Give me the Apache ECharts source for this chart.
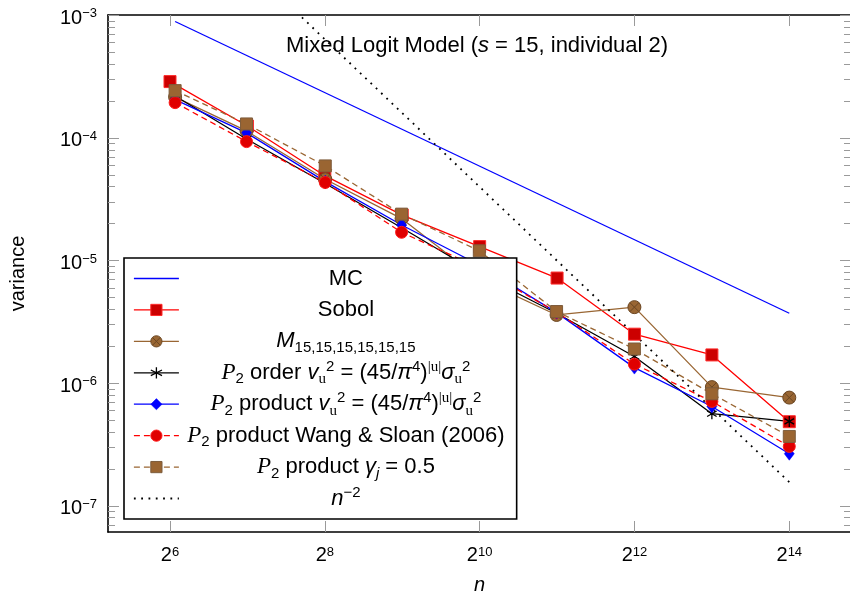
<!DOCTYPE html>
<html><head><meta charset="utf-8">
<script src="https://cdn.jsdelivr.net/npm/echarts@6/dist/echarts.min.js"></script>
<style>html,body{margin:0;padding:0;background:#fff}#c{width:850px;height:593px}</style>
</head><body><div id="c"></div>
<script>
// ---- data ----
const nSobol   = [64, 128, 256, 512, 1024, 2048, 4096, 8192, 16384];
const nLattice = [67, 127, 257, 509, 1021, 2039, 4093, 8191, 16381];
const mcN      = [67, 16381];
const mcVar    = [8.9e-4, 3.72e-6];
const sobolVar   = [2.88e-4, 1.25e-4, 4.92e-5, 2.35e-5, 1.30e-5, 7.2e-6, 2.51e-6, 1.70e-6, 4.85e-7];
const mVar       = [2.15e-4, 1.14e-4, 4.6e-5, 2.2e-5, 7.1e-6, 3.6e-6, 4.17e-6, 9.29e-7, 7.63e-7];
const orderVar   = [2.2e-4, 9.8e-5, 4.25e-5, 1.85e-5, 7.8e-6, 3.72e-6, 1.65e-6, 5.64e-7, 4.88e-7];
const productVar = [2.05e-4, 1.1e-4, 4.4e-5, 1.95e-5, 9.2e-6, 3.76e-6, 1.34e-6, 6.46e-7, 2.66e-7];
const wangVar    = [1.94e-4, 9.33e-5, 4.33e-5, 1.70e-5, 8.7e-6, 3.8e-6, 1.43e-6, 7.1e-7, 3.05e-7];
const gammaVar   = [2.43e-4, 1.30e-4, 5.91e-5, 2.39e-5, 1.20e-5, 3.84e-6, 1.90e-6, 8.2e-7, 3.68e-7];
const refN   = [67, 16381];
const refVar = [9.3e-3, 1.56e-7];
const xTickExp = [6, 8, 10, 12, 14];
const yTickExp = [-7, -6, -5, -4, -3];
const xRangeExp = [5.199, 14.797];
const yRangeExp = [-7.2135, -2.9976];

// ---- styling ----
const F = '"Liberation Sans", Arial, sans-serif';
const SERIF = '"Liberation Serif", serif';
function pairs(xs, ys) { return xs.map((x, i) => [x, ys[i]]); }
const minorY = [];
for (let e = -8; e <= -3; e++) for (let k = 2; k <= 9; k++) {
  const v = e + Math.log10(k);
  if (v > yRangeExp[0] && v < yRangeExp[1]) minorY.push(v);
}
const tickLine = {color: '#9a9a9a', width: 1};
const OTIMES = 'path://M10,0A10,10,0,1,1,-10,0A10,10,0,1,1,10,0ZM-7.07,-7.07L7.07,7.07M-7.07,7.07L7.07,-7.07';
const ASTER = 'path://M0,-10L0,10M-8.66,-5L8.66,5M-8.66,5L8.66,-5';

function tok(extra) { return Object.assign({fontFamily: F, fontSize: 22, fontWeight: 'normal', lineHeight: 31, align: 'center', color: '#000'}, extra); }
const legendRich = {
  t: tok({padding: [4.5, 0, 4.5, 0]}),
  i: tok({fontStyle: 'italic', padding: [4.5, 0, 4.5, 0]}),
  cal: tok({fontFamily: SERIF, fontStyle: 'italic', fontSize: 23, padding: [4, 0, 4, 0]}),
  sub: tok({fontSize: 15, padding: [13, 0, 0, 0]}),
  subi: tok({fontSize: 15, fontStyle: 'italic', padding: [13, 0, 0, 0]}),
  subf: tok({fontSize: 15, fontFamily: SERIF, padding: [13, 0, 0, 0]}),
  sup: tok({fontSize: 15, padding: [0, 0, 12, 0]}),
  supf: tok({fontSize: 15, fontFamily: SERIF, padding: [0, 0, 12, 0]})
};
const vu = '{i|v}{subf|u}{sup|2}{t| = (45/}{i|π}{sup|4}{t|)}{supf||u|}{i|σ}{subf|u}{sup|2}';
const legendText = {
  MC: '{t|MC}',
  Sobol: '{t|Sobol}',
  M: '{i|M}{sub|15,15,15,15,15,15}',
  order: '{cal|P}{sub|2}{t| order }' + vu,
  product: '{cal|P}{sub|2}{t| product }' + vu,
  wang: '{cal|P}{sub|2}{t| product Wang & Sloan (2006)}',
  gamma: '{cal|P}{sub|2}{t| product }{i|γ}{subi|j}{t| = 0.5}',
  ref: '{i|n}{sup|−2}'
};

const seriesDefs = [
  {name: 'MC', n: mcN, v: mcVar, symbol: 'none', size: 0,
   line: {color: '#0000ff', width: 1.3}, item: {color: '#0000ff', borderColor: '#0000ff', borderWidth: 0, opacity: 0}},
  {name: 'Sobol', n: nSobol, v: sobolVar, symbol: 'rect', size: 12,
   line: {color: '#ff0000', width: 1.3}, item: {color: '#cc0000', borderColor: '#ff2a2a', borderWidth: 1, opacity: 1}},
  {name: 'M', n: nLattice, v: mVar, symbol: OTIMES, size: 13,
   line: {color: '#996633', width: 1.3}, item: {color: '#996633', borderColor: '#6b4622', borderWidth: 1, opacity: 1}},
  {name: 'order', n: nLattice, v: orderVar, symbol: ASTER, size: 11,
   line: {color: '#000000', width: 1.3}, item: {color: '#000000', borderColor: '#000000', borderWidth: 1.3, opacity: 1}},
  {name: 'product', n: nLattice, v: productVar, symbol: 'diamond', size: [10, 13],
   line: {color: '#0000ff', width: 1.3}, item: {color: '#0000ff', borderColor: '#0000ff', borderWidth: 0.5, opacity: 1}},
  {name: 'wang', n: nLattice, v: wangVar, symbol: 'circle', size: 12,
   line: {color: '#ff0000', width: 1.3, type: [6, 4]}, item: {color: '#e00000', borderColor: '#ff1a1a', borderWidth: 1, opacity: 1}},
  {name: 'gamma', n: nLattice, v: gammaVar, symbol: 'rect', size: 12,
   line: {color: '#996633', width: 1.3, type: [6, 4]}, item: {color: '#9a6532', borderColor: '#7d5c3c', borderWidth: 1, opacity: 1}},
  {name: 'ref', n: refN, v: refVar, symbol: 'none', size: 0,
   line: {color: '#000000', width: 1.8, type: [1.8, 5.5], cap: 'butt'}, item: {color: '#000', borderColor: '#000', borderWidth: 0, opacity: 0}}
];

const series = seriesDefs.map(d => ({
  type: 'line', name: d.name, xAxisIndex: 0, yAxisIndex: 0,
  data: pairs(d.n, d.v), symbol: d.symbol, symbolSize: d.size, symbolKeepAspect: true,
  showSymbol: d.symbol !== 'none', clip: true, animation: false,
  lineStyle: d.line, itemStyle: d.item, emphasis: {disabled: true}
}));

const legendData = seriesDefs.map(d => ({
  name: d.name,
  itemStyle: Object.assign({}, d.item),
  lineStyle: Object.assign({}, d.line)
}));

function isPow(v, base) {
  const e = Math.log(v) / Math.log(base);
  const r = Math.round(e);
  return Math.abs(e - r) < 1e-6 ? r : null;
}

const option = {
  animation: false,
  backgroundColor: '#fff',
  title: {
    text: '{t|Mixed Logit Model (}{i|s}{t| = 15, individual 2)}',
    left: 286, top: 33, padding: 0,
    textStyle: {fontWeight: 'normal', rich: {
      t: {fontFamily: F, fontSize: 22, fontWeight: 'normal', lineHeight: 26, color: '#000'},
      i: {fontFamily: F, fontSize: 22, fontWeight: 'normal', lineHeight: 26, fontStyle: 'italic', color: '#000'}
    }}
  },
  grid: {left: 108, top: 15, width: 743, height: 517, outerBoundsMode: 'none', containLabel: false},
  xAxis: [
    {type: 'log', logBase: 2, min: Math.pow(2, xRangeExp[0]), max: Math.pow(2, xRangeExp[1]),
     position: 'bottom',
     axisLine: {show: true, onZero: false, lineStyle: {color: '#000', width: 1.6}},
     axisTick: {show: false}, splitLine: {show: false}, minorTick: {show: false},
     axisLabel: {margin: 9, formatter: v => { const r = isPow(v, 2); return (r === null || r % 2) ? '' : '{b|2}{s|' + r + '}'; },
       rich: {b: {fontFamily: F, fontSize: 20, lineHeight: 22, padding: [6, 0, 0, 0], color: '#000'},
              s: {fontFamily: F, fontSize: 13, lineHeight: 22, color: '#000'}}},
     name: 'n', nameLocation: 'middle', nameGap: 43,
     nameTextStyle: {fontFamily: F, fontStyle: 'italic', fontSize: 20, color: '#000'}},
    {type: 'value', min: xRangeExp[0], max: xRangeExp[1], position: 'bottom',
     axisLine: {show: false}, axisLabel: {show: false}, splitLine: {show: false},
     axisTick: {show: true, inside: true, length: 11, customValues: xTickExp, lineStyle: tickLine}},
    {type: 'value', min: xRangeExp[0], max: xRangeExp[1], position: 'top',
     axisLine: {show: true, onZero: false, lineStyle: {color: '#000', width: 1.6}}, axisLabel: {show: false}, splitLine: {show: false},
     axisTick: {show: true, inside: true, length: 11, customValues: xTickExp, lineStyle: tickLine}}
  ],
  yAxis: [
    {type: 'log', logBase: 10, min: Math.pow(10, yRangeExp[0]), max: Math.pow(10, yRangeExp[1]),
     position: 'left',
     axisLine: {show: true, onZero: false, lineStyle: {color: '#000', width: 1.6}},
     axisTick: {show: false}, splitLine: {show: false}, minorTick: {show: false},
     axisLabel: {margin: 11, formatter: v => { const r = isPow(v, 10); return r === null ? '' : '{b|10}{s|−' + (-r) + '}'; },
       rich: {b: {fontFamily: F, fontSize: 20, padding: [6, 0, 0, 0], color: '#000'},
              s: {fontFamily: F, fontSize: 13, padding: [0, 0, 3, 0], color: '#000'}}},
     name: 'variance', nameLocation: 'middle', nameGap: 80, nameRotate: 90,
     nameTextStyle: {fontFamily: F, fontSize: 20, color: '#000'}},
    {type: 'value', min: yRangeExp[0], max: yRangeExp[1], position: 'left',
     axisLine: {show: false}, axisLabel: {show: false}, splitLine: {show: false},
     axisTick: {show: true, inside: true, length: 11, customValues: yTickExp, lineStyle: tickLine}},
    {type: 'value', min: yRangeExp[0], max: yRangeExp[1], position: 'left',
     axisLine: {show: false}, axisLabel: {show: false}, splitLine: {show: false},
     axisTick: {show: true, inside: true, length: 7, customValues: minorY, lineStyle: tickLine}},
    {type: 'value', min: yRangeExp[0], max: yRangeExp[1], position: 'right',
     axisLine: {show: true, onZero: false, lineStyle: {color: '#000', width: 1.6}}, axisLabel: {show: false}, splitLine: {show: false},
     axisTick: {show: true, inside: true, length: 11, customValues: yTickExp, lineStyle: tickLine}},
    {type: 'value', min: yRangeExp[0], max: yRangeExp[1], position: 'right',
     axisLine: {show: false}, axisLabel: {show: false}, splitLine: {show: false},
     axisTick: {show: true, inside: true, length: 7, customValues: minorY, lineStyle: tickLine}}
  ],
  legend: {
    orient: 'vertical', left: 124, top: 258, align: 'left',
    itemWidth: 45, itemHeight: 14, itemGap: 0.43,
    padding: [5, 12, 5, 9],
    backgroundColor: '#fff', borderColor: '#000', borderWidth: 1.6, borderRadius: 0,
    selectedMode: false,
    data: legendData,
    formatter: name => legendText[name],
    textStyle: {width: 324, rich: legendRich}
  },
  series: series
};
const chart = echarts.init(document.getElementById('c'), null, {renderer: 'canvas'});
chart.setOption(option);
</script></body></html>
